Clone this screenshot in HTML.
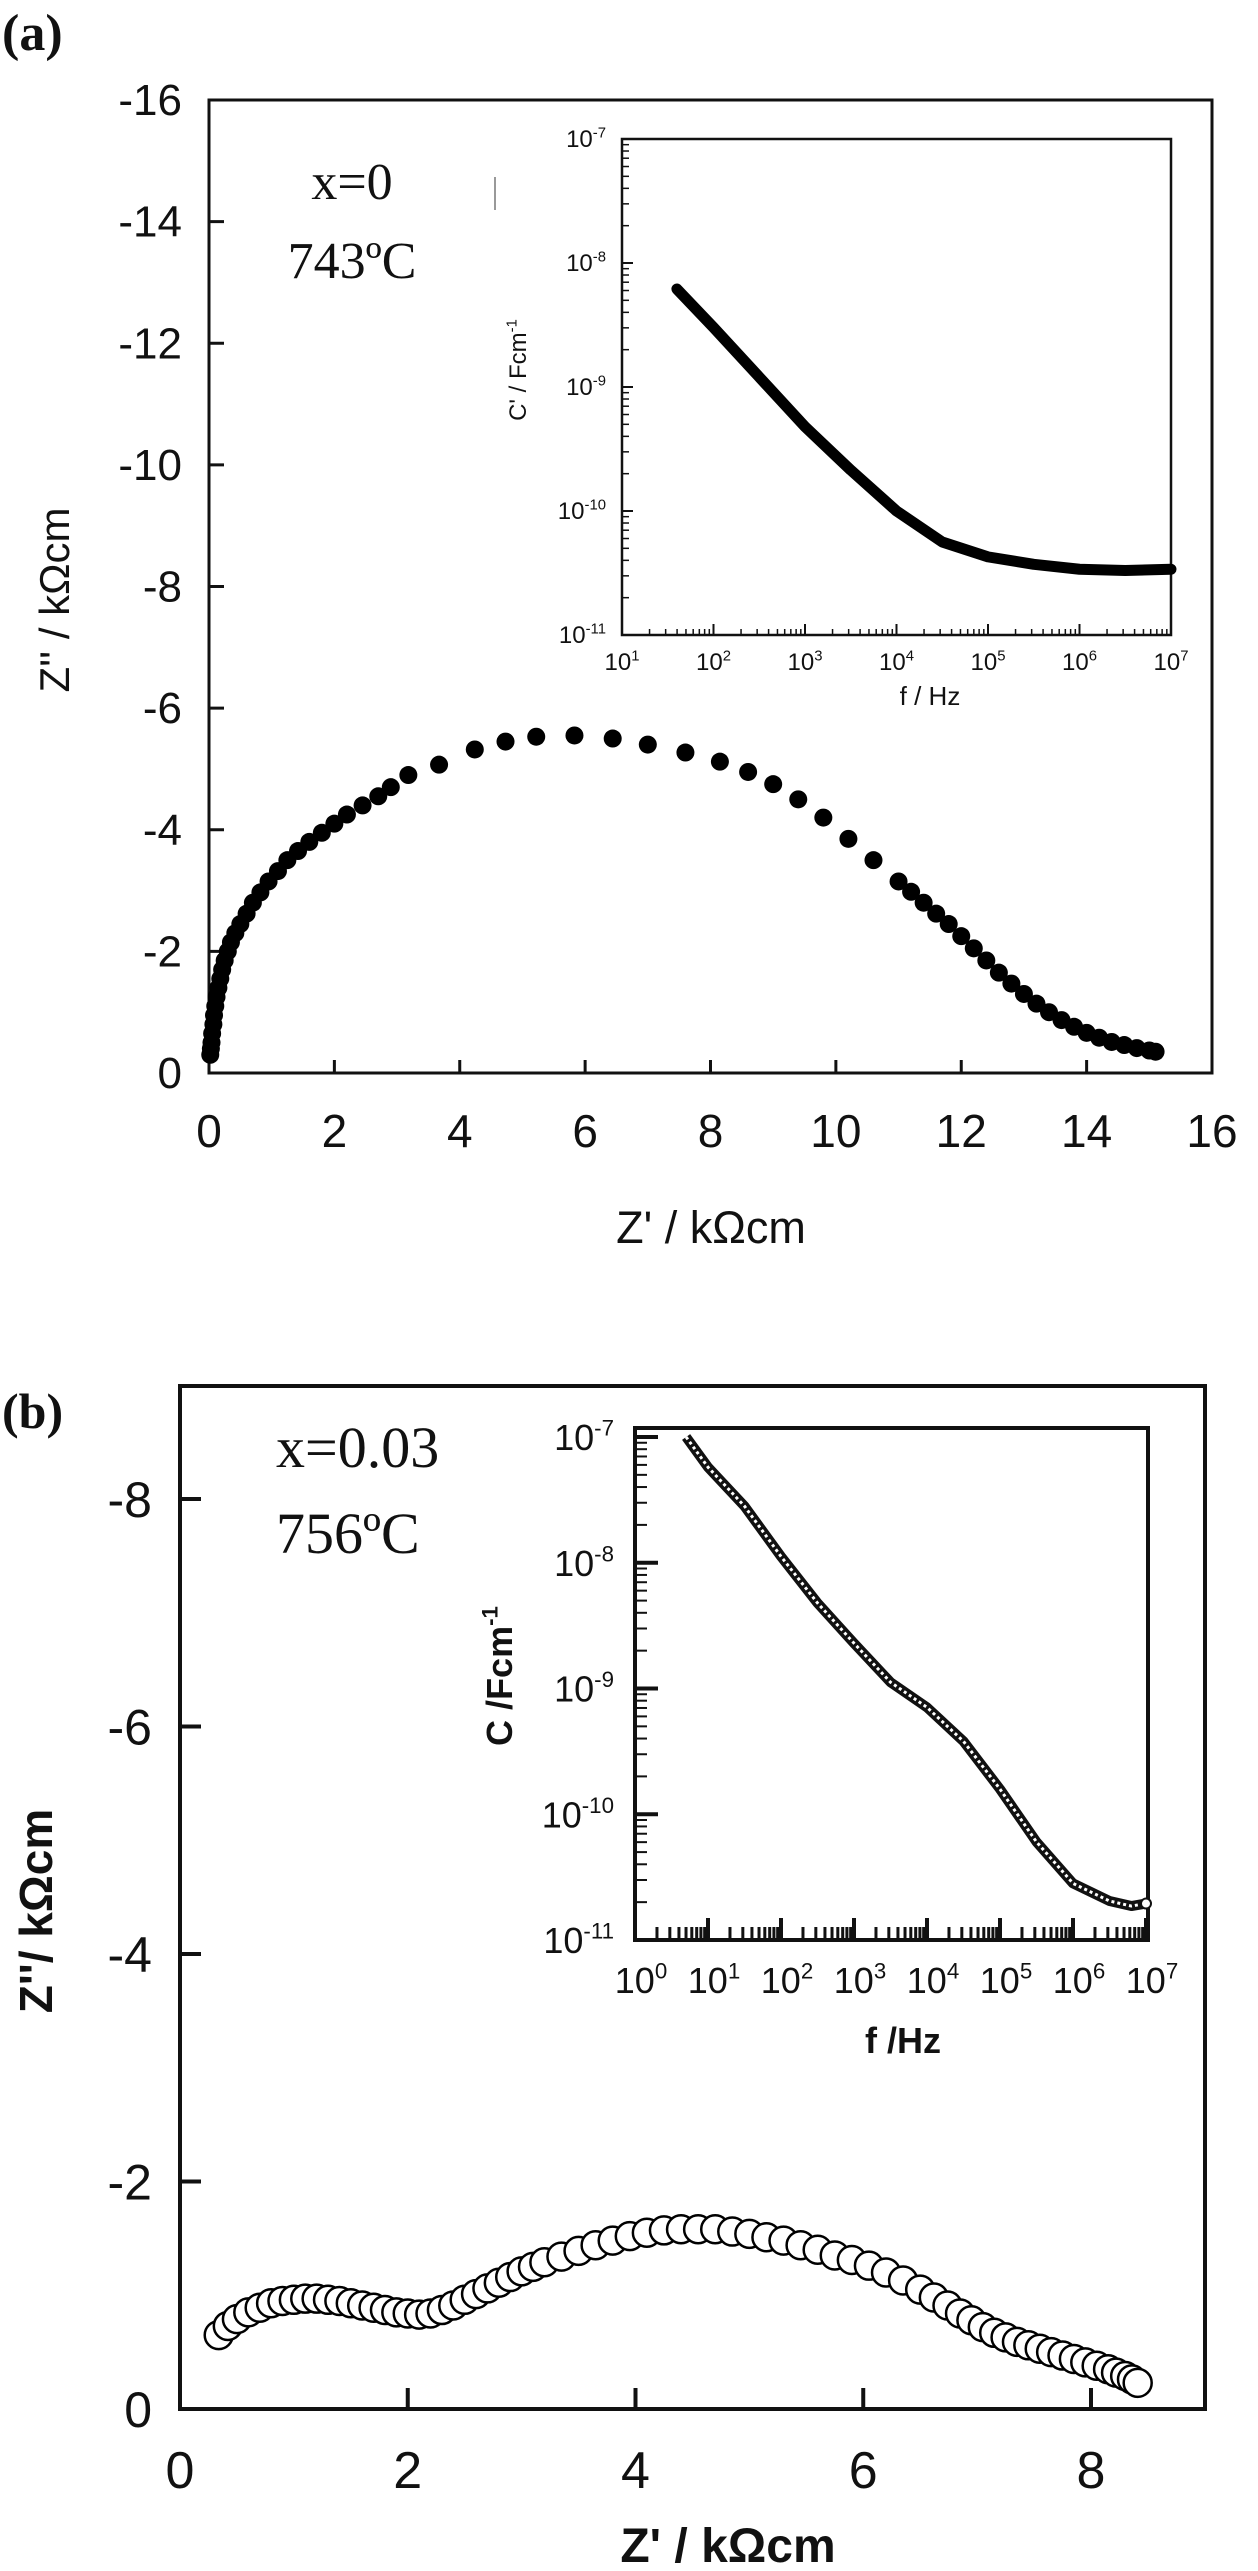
<!DOCTYPE html>
<html><head><meta charset="utf-8"><style>
html,body{margin:0;padding:0;background:#fff;}
svg{display:block;}
text{font-family:"Liberation Sans",Arial,sans-serif;fill:#111;}
.serif{font-family:"Liberation Serif","Times New Roman",serif;}
</style></head><body>
<svg id="fig" width="1258" height="2571" viewBox="0 0 1258 2571" xmlns="http://www.w3.org/2000/svg">
<g id="pa"></g>
<g id="pb"></g>
</svg>
<script>
// Panel (a) main Nyquist data: Z' (kOhm cm), Z'' (kOhm cm)
const aZre = [0.02,0.03,0.04,0.05,0.07,0.08,0.1,0.12,0.15,0.18,0.21,0.25,0.3,0.35,0.42,0.5,0.6,0.7,0.82,0.95,1.1,1.25,1.42,1.6,1.8,2.0,2.2,2.45,2.7,2.9,3.18,3.67,4.24,4.73,5.22,5.83,6.44,7.0,7.6,8.15,8.6,9.0,9.4,9.8,10.2,10.6,11.0,11.2,11.4,11.6,11.8,12.0,12.2,12.4,12.6,12.8,13.0,13.2,13.4,13.6,13.8,14.0,14.2,14.4,14.6,14.8,15.0,15.1];
const aZim = [-0.3,-0.4,-0.5,-0.65,-0.8,-0.95,-1.1,-1.25,-1.4,-1.55,-1.7,-1.85,-2.0,-2.15,-2.3,-2.45,-2.62,-2.8,-2.97,-3.15,-3.32,-3.5,-3.65,-3.8,-3.95,-4.1,-4.25,-4.4,-4.55,-4.7,-4.9,-5.07,-5.32,-5.45,-5.53,-5.55,-5.5,-5.4,-5.27,-5.12,-4.95,-4.75,-4.5,-4.2,-3.85,-3.5,-3.15,-2.98,-2.8,-2.62,-2.45,-2.25,-2.05,-1.85,-1.65,-1.47,-1.3,-1.14,-1.0,-0.87,-0.76,-0.66,-0.58,-0.51,-0.46,-0.41,-0.37,-0.35];
const aXTicks = [0,2,4,6,8,10,12,14,16];
const aYTicks = [0,-2,-4,-6,-8,-10,-12,-14,-16];
// Panel (a) inset: log10 f, log10 C'
const aInLogF = [1.6,2.0,2.5,3.0,3.5,4.0,4.5,5.0,5.5,6.0,6.5,7.0];
const aInLogC = [-8.21,-8.52,-8.92,-9.32,-9.67,-10.0,-10.25,-10.37,-10.43,-10.47,-10.48,-10.47];
const aInXTicks = [1,2,3,4,5,6,7];
const aInYTicks = [-7,-8,-9,-10,-11];
// Panel (b) main Nyquist data
const bZre = [0.34,0.42,0.5,0.6,0.7,0.8,0.9,1.0,1.1,1.2,1.3,1.4,1.5,1.6,1.7,1.8,1.9,2.0,2.1,2.2,2.3,2.4,2.5,2.6,2.7,2.8,2.9,3.0,3.1,3.2,3.35,3.5,3.65,3.8,3.95,4.1,4.25,4.4,4.55,4.7,4.85,5.0,5.15,5.3,5.45,5.6,5.75,5.9,6.05,6.2,6.35,6.5,6.62,6.74,6.85,6.95,7.05,7.15,7.25,7.35,7.45,7.55,7.65,7.75,7.85,7.95,8.05,8.15,8.22,8.3,8.36,8.41];
const bZim = [-0.65,-0.73,-0.79,-0.85,-0.89,-0.93,-0.95,-0.96,-0.97,-0.97,-0.96,-0.95,-0.93,-0.91,-0.89,-0.87,-0.85,-0.84,-0.83,-0.84,-0.87,-0.91,-0.96,-1.01,-1.06,-1.11,-1.16,-1.21,-1.25,-1.29,-1.34,-1.39,-1.44,-1.48,-1.52,-1.55,-1.57,-1.58,-1.58,-1.58,-1.56,-1.54,-1.51,-1.48,-1.44,-1.4,-1.35,-1.31,-1.26,-1.2,-1.13,-1.05,-0.98,-0.91,-0.84,-0.78,-0.72,-0.67,-0.63,-0.59,-0.56,-0.53,-0.5,-0.47,-0.44,-0.41,-0.38,-0.35,-0.32,-0.29,-0.26,-0.23];
const bXTicks = [0,2,4,6,8];
const bYTicks = [0,-2,-4,-6,-8];
// Panel (b) inset: log10 f, log10 C
const bInLogF = [0.7,1.0,1.5,2.0,2.5,3.0,3.5,4.0,4.5,5.0,5.5,6.0,6.5,6.8,7.0];
const bInLogC = [-7.0,-7.24,-7.55,-7.95,-8.32,-8.64,-8.95,-9.15,-9.42,-9.8,-10.22,-10.55,-10.69,-10.73,-10.71];
const bInXTicks = [0,1,2,3,4,5,6,7];
const bInYTicks = [-7,-8,-9,-10,-11];

const NS = "http://www.w3.org/2000/svg";
function mk(parent, tag, attrs, txt){
  const e = document.createElementNS(NS, tag);
  for (const k in attrs) e.setAttribute(k, attrs[k]);
  if (txt !== undefined) e.textContent = txt;
  parent.appendChild(e);
  return e;
}
function lin(d0,d1,r0,r1){return v => r0 + (v-d0)*(r1-r0)/(d1-d0);}
function supText(parent, x, y, base, exp, size, anchor, weight){
  const t = mk(parent,'text',{x:x,y:y,'font-size':size,'text-anchor':anchor,'font-weight':weight||'normal'});
  const s1 = document.createElementNS(NS,'tspan'); s1.textContent = base; t.appendChild(s1);
  const s2 = document.createElementNS(NS,'tspan'); s2.setAttribute('dy', -size*0.4); s2.setAttribute('font-size', size*0.62); s2.textContent = exp; t.appendChild(s2);
  return t;
}

/* ---------- PANEL A ---------- */
const pa = document.getElementById('pa');
const ax = lin(0,16,209,1212), ay = lin(0,-16,1073,100);
let t = mk(pa,'text',{x:2,y:50,'font-size':52,'font-weight':'bold',class:'serif'},'(a)');
 
let box = mk(pa,'rect',{x:209,y:100,width:1003,height:973,fill:'none',stroke:'#111','stroke-width':3});
 
aXTicks.forEach(v=>{
  const l = mk(pa,'line',{x1:ax(v),x2:ax(v),y1:1073,y2:1060,stroke:'#111','stroke-width':3});
   
  const tx = mk(pa,'text',{x:ax(v),y:1147,'font-size':46,'text-anchor':'middle'},String(v));
   
});
aYTicks.forEach(v=>{
  const l = mk(pa,'line',{x1:209,x2:224,y1:ay(v),y2:ay(v),stroke:'#111','stroke-width':3});
   
  const tx = mk(pa,'text',{x:182,y:ay(v)+15,'font-size':44,'text-anchor':'end'},String(v));
   
});
t = mk(pa,'text',{x:711,y:1243,'font-size':45,'text-anchor':'middle'},"Z' / kΩcm");
 
t = mk(pa,'text',{x:0,y:0,'font-size':42,'text-anchor':'middle',transform:'translate(69,600) rotate(-90)'},"Z'' / kΩcm");
 
t = mk(pa,'text',{x:352,y:199,'font-size':52,'text-anchor':'middle',class:'serif'},'x=0');
 
t = mk(pa,'text',{x:352,y:278,'font-size':52,'text-anchor':'middle',class:'serif'},'743ºC');
 
let mark = mk(pa,'line',{x1:495,x2:495,y1:177,y2:210,stroke:'#999','stroke-width':2});
 
const aSer = mk(pa,'g',{});
 
aZre.forEach((v,i)=>{
  const c = mk(aSer,'circle',{cx:ax(v),cy:ay(aZim[i]),r:9,fill:'#000'});
   
});
// inset a
const iax = lin(1,7,622,1171), iay = lin(-7,-11,139,635);
const ia = mk(pa,'g',{});
 
box = mk(ia,'rect',{x:622,y:139,width:549,height:496,fill:'#fff',stroke:'#111','stroke-width':2.5});
 
aInYTicks.forEach(v=>{
  const l = mk(ia,'line',{x1:622,x2:633,y1:iay(v),y2:iay(v),stroke:'#111','stroke-width':2});
   
  if (v > -11) for (let m=2;m<=9;m++){
    const yy = iay(v) + (Math.log10(m))*124*0 + (1-Math.log10(m))*0;
    const ym = iay(v-1+Math.log10(m));
    const lm = mk(ia,'line',{x1:622,x2:629,y1:ym,y2:ym,stroke:'#111','stroke-width':1.5});
     
  }
  const tx = supText(ia, 606, iay(v)+8, '10', String(v), 24, 'end');
   
});
aInXTicks.forEach(v=>{
  const l = mk(ia,'line',{x1:iax(v),x2:iax(v),y1:635,y2:624,stroke:'#111','stroke-width':2});
   
  if (v < 7) for (let m=2;m<=9;m++){
    const xm = iax(v+Math.log10(m));
    const lm = mk(ia,'line',{x1:xm,x2:xm,y1:635,y2:629,stroke:'#111','stroke-width':1.5});
     
  }
  const tx = supText(ia, iax(v), 670, '10', String(v), 24, 'middle');
   
});
t = mk(ia,'text',{x:930,y:705,'font-size':26,'text-anchor':'middle'},'f / Hz');
 
t = supText(ia, 0, 0, "C' / Fcm", '-1', 24, 'middle');
t.setAttribute('transform','translate(526,370) rotate(-90)');
 
let pts = aInLogF.map((v,i)=>iax(v)+','+iay(aInLogC[i])).join(' ');
let pl = mk(ia,'polyline',{points:pts,fill:'none',stroke:'#000','stroke-width':11,'stroke-linejoin':'round','stroke-linecap':'round'});
 

/* ---------- PANEL B ---------- */
const pb = document.getElementById('pb');
const bx = lin(0,8,180,1091), by = lin(0,-8,2409,1499);
t = mk(pb,'text',{x:2,y:1428,'font-size':50,'font-weight':'bold',class:'serif'},'(b)');
 
box = mk(pb,'rect',{x:180,y:1386,width:1025,height:1023,fill:'none',stroke:'#111','stroke-width':4});
 
bXTicks.forEach(v=>{
  const l = mk(pb,'line',{x1:bx(v),x2:bx(v),y1:2409,y2:2388,stroke:'#111','stroke-width':4});
   
  const tx = mk(pb,'text',{x:bx(v),y:2488,'font-size':52,'text-anchor':'middle'},String(v));
   
});
bYTicks.forEach(v=>{
  const l = mk(pb,'line',{x1:180,x2:201,y1:by(v),y2:by(v),stroke:'#111','stroke-width':4});
   
  const tx = mk(pb,'text',{x:152,y:by(v)+18,'font-size':50,'text-anchor':'end'},String(v));
   
});
t = mk(pb,'text',{x:728,y:2562,'font-size':48,'font-weight':'bold','text-anchor':'middle'},"Z' / kΩcm");
 
t = mk(pb,'text',{x:0,y:0,'font-size':46,'font-weight':'bold','text-anchor':'middle',transform:'translate(52,1911) rotate(-90)'},"Z''/ kΩcm");
 
t = mk(pb,'text',{x:276,y:1467,'font-size':58,class:'serif'},'x=0.03');
 
t = mk(pb,'text',{x:276,y:1553,'font-size':58,class:'serif'},'756ºC');
 
const bSer = mk(pb,'g',{});
 
bZre.forEach((v,i)=>{
  const c = mk(bSer,'circle',{cx:bx(v),cy:by(bZim[i]),r:14,fill:'#fff',stroke:'#000','stroke-width':2.5});
   
});
// inset b
const ibx = lin(0,7,635,1146), iby = lin(-7,-11,1437,1940);
const ib = mk(pb,'g',{});
 
box = mk(ib,'rect',{x:635,y:1428,width:513,height:512,fill:'#fff',stroke:'#111','stroke-width':4});
 
bInYTicks.forEach(v=>{
  const l = mk(ib,'line',{x1:635,x2:658,y1:iby(v),y2:iby(v),stroke:'#111','stroke-width':4});
   
  if (v > -11) for (let m=2;m<=9;m++){
    const ym = iby(v-1+Math.log10(m));
    const lm = mk(ib,'line',{x1:635,x2:647,y1:ym,y2:ym,stroke:'#111','stroke-width':2});
     
  }
  const tx = supText(ib, 614, iby(v)+13, '10', String(v), 36, 'end');
   
});
bInXTicks.forEach(v=>{
  const l = mk(ib,'line',{x1:ibx(v),x2:ibx(v),y1:1940,y2:1918,stroke:'#111','stroke-width':4});
   
  if (v < 7) for (let m=2;m<=9;m++){
    const xm = ibx(v+Math.log10(m));
    const lm = mk(ib,'line',{x1:xm,x2:xm,y1:1940,y2:1927,stroke:'#111','stroke-width':3});
     
  }
  const tx = supText(ib, ibx(v)+6, 1993, '10', String(v), 36, 'middle');
   
});
t = mk(ib,'text',{x:903,y:2053,'font-size':36,'font-weight':'bold','text-anchor':'middle'},'f /Hz');
 
t = supText(ib, 0, 0, 'C /Fcm', '-1', 36, 'middle', 'bold');
t.setAttribute('transform','translate(512,1676) rotate(-90)');
 
pts = bInLogF.map((v,i)=>ibx(v)+','+iby(bInLogC[i])).join(' ');
pl = mk(ib,'polyline',{points:pts,fill:'none',stroke:'#111','stroke-width':10,'stroke-linejoin':'round'});
 
pl = mk(ib,'polyline',{points:pts,fill:'none',stroke:'#fff','stroke-width':3,'stroke-linejoin':'round','stroke-dasharray':'3 3'});
 
const endPt = mk(ib,'circle',{cx:ibx(bInLogF[bInLogF.length-1]),cy:iby(bInLogC[bInLogC.length-1]),r:5,fill:'#fff',stroke:'#111','stroke-width':2});
 
</script>
</body></html>
